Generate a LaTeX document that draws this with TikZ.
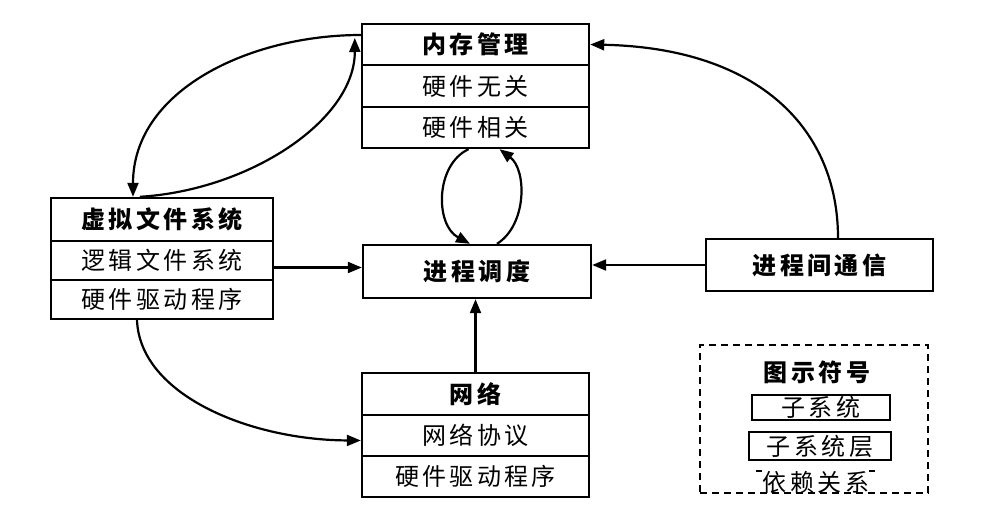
\documentclass[tikz,border=0pt]{standalone}
\usepackage{fontspec}
\newfontfamily\cjk[LetterSpace=14]{Noto Sans CJK SC}
\usetikzlibrary{arrows.meta,calc}
\begin{document}
\begin{tikzpicture}[x=1pt,y=-1pt,
  box/.style={draw, line width=2.4pt, minimum width=227pt, inner sep=0pt,
    font=\cjk\fontsize{24}{24}\selectfont},
  hd/.style={box, font=\cjk\bfseries\fontsize{24}{24}\selectfont},
  arr/.style={-{Triangle[length=14pt,width=11pt]}, line width=2.2pt},
  lbox/.style={draw, line width=2pt, inner sep=0pt, font=\cjk\fontsize{24}{24}\selectfont},
]
\useasboundingbox (0,0) rectangle (988,524);
% memory management
\node[hd,  minimum height=41pt] (mem1) at (475.5,44.5) {内存管理};
\node[box, minimum height=42pt] (mem2) at (475.5,86) {硬件无关};
\node[box, minimum height=41pt] (mem3) at (475.5,127.5) {硬件相关};
% scheduler
\node[hd, minimum width=228pt, minimum height=53pt] (sched) at (477,271.5) {进程调度};
% VFS
\node[hd,  minimum width=222pt, minimum height=43pt] (vfs1) at (162,219.5) {虚拟文件系统};
\node[box, minimum width=222pt, minimum height=39pt] (vfs2) at (162,260.5) {逻辑文件系统};
\node[box, minimum width=222pt, minimum height=39pt] (vfs3) at (162,299.5) {硬件驱动程序};
% network
\node[hd,  minimum height=42pt] (net1) at (475.5,394) {网络};
\node[box, minimum height=41pt] (net2) at (475.5,435.5) {网络协议};
\node[box, minimum height=41pt] (net3) at (475.5,476.5) {硬件驱动程序};
% IPC
\node[hd, minimum height=52pt] (ipc) at (819.5,265) {进程间通信};
% legend
\node[draw, line width=2.2pt, dash pattern=on 7pt off 5pt, minimum width=228pt, minimum height=148pt] (leg) at (814,419) {};
\node[font=\cjk\bfseries\fontsize{24}{24}\selectfont, inner sep=0pt] (legt) at (817,372) {图示符号};
\node[lbox, minimum width=138pt, minimum height=25pt] (leg1) at (821,407.5) {子系统};
\node[lbox, minimum width=142pt, minimum height=28pt] (leg2) at (820,446) {子系统层};
\node[font=\cjk\fontsize{24}{24}\selectfont, inner sep=0pt] (leg3) at (816,482) {依赖关系};
\draw[line width=1.4pt] ([xshift=-7pt,yshift=11pt]leg3.west) -- ++(6,0);
\draw[line width=1.4pt] ([xshift=0pt,yshift=11pt]leg3.east) -- ++(6,0);

% arrows between memory and VFS
\draw[arr] ([yshift=9.5pt]mem1.west) .. controls (250,35) and (133,90) .. ([xshift=-29pt]vfs1.north);
\draw[arr] ([xshift=-22pt]vfs1.north) .. controls (250,190) and (355,120) .. ([xshift=-6pt,yshift=6.5pt]mem1.west);
% memory <-> scheduler
\draw[arr] ([xshift=-7pt]mem3.south) .. controls (435,165) and (435,225) .. ([xshift=-7pt]sched.north);
\draw[arr] ([xshift=20pt]sched.north) .. controls (527,225) and (527,170) .. ([xshift=24pt]mem3.south);
% straight arrows
\coordinate (p1) at ([yshift=-7pt]vfs2.east);
\draw[arr] (p1) -- (p1 -| sched.west);
\draw[arr] (ipc.west) -- (ipc.west -| sched.east);
\draw[arr] (net1.north) -- (net1.north |- sched.south);
% IPC -> memory
\draw[arr] ([xshift=18.5pt]ipc.north) .. controls (838,130) and (760,48) .. (mem1.east);
% VFS -> network
\draw[arr] ([xshift=-25pt]vfs3.south) .. controls (140,395) and (250,440) .. ([yshift=-5pt]net2.west);
\end{tikzpicture}
\end{document}
